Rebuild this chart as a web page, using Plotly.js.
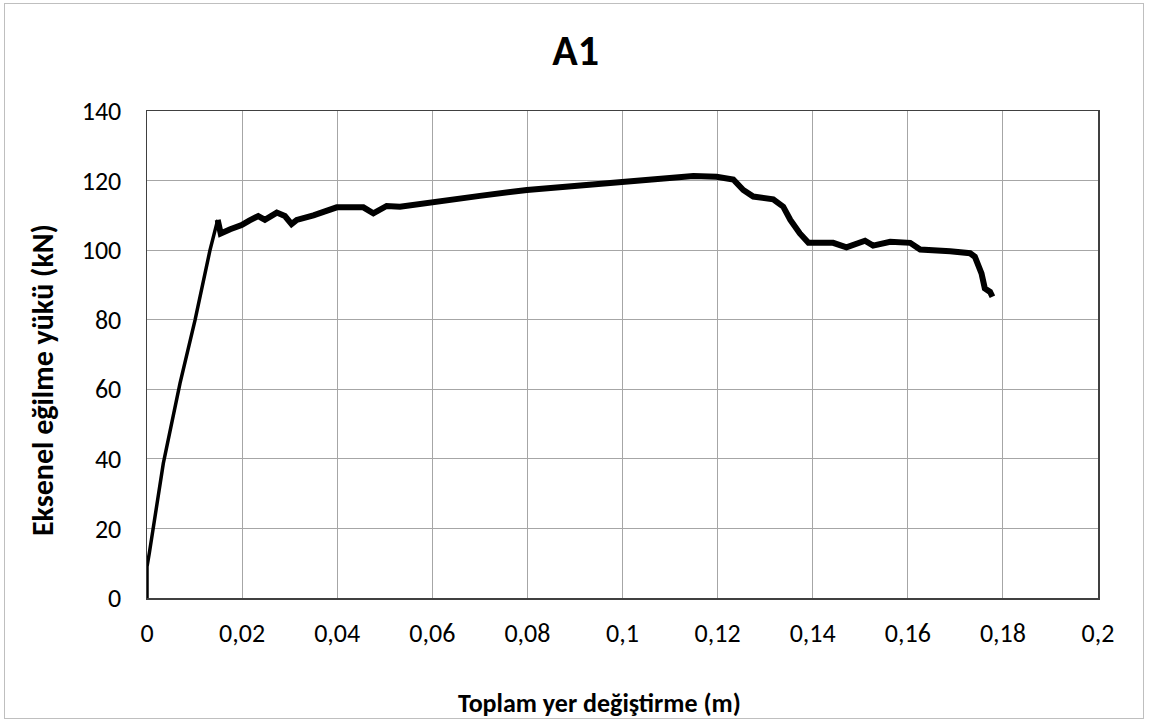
<!DOCTYPE html>
<html>
<head>
<meta charset="utf-8">
<script src="https://cdn.plot.ly/plotly-3.0.1.min.js"></script>
<style>
  html, body { margin: 0; padding: 0; background: #fff; }
  #wrap { position: relative; width: 1149px; height: 724px; }
  #frame { position: absolute; left: 4px; top: 3px; width: 1140px; height: 716px; border: 1px solid #bfbfbf; box-sizing: border-box; pointer-events: none; }
  #chart { position: absolute; left: 0; top: 0; width: 1149px; height: 724px; }
</style>
</head>
<body>
<div id="wrap">
  <div id="chart"></div>
  <div id="frame"></div>
</div>
<script>
const chartTitle = "A1";
const xTitle = "Toplam yer değiştirme (m)";
const yTitle = "Eksenel eğilme yükü (kN)";

const displacement = [0, 0, 0.0005, 0.00343, 0.00694, 0.0101, 0.01325, 0.01487, 0.0155, 0.0175, 0.0199, 0.0215, 0.0234, 0.0248, 0.0262, 0.0273, 0.029, 0.0304, 0.0315, 0.035, 0.0399, 0.0455, 0.0476, 0.0504, 0.0532, 0.0599, 0.07, 0.0799, 0.09, 0.0998, 0.108, 0.1149, 0.1198, 0.1233, 0.1254, 0.1275, 0.1317, 0.1338, 0.1353, 0.1373, 0.1391, 0.1443, 0.1471, 0.151, 0.1527, 0.1563, 0.1605, 0.1626, 0.1689, 0.1731, 0.1741, 0.1755, 0.1762, 0.1773, 0.1778];
const load = [0, 9, 13, 38.7, 61.7, 79.9, 100, 108.7, 104.8, 106, 107.2, 108.5, 109.8, 108.7, 110, 110.8, 109.8, 107.5, 108.7, 110, 112.3, 112.3, 110.6, 112.7, 112.5, 113.9, 115.6, 117.3, 118.5, 119.5, 120.3, 121.3, 121.1, 120.3, 117.3, 115.4, 114.6, 112.5, 108.7, 104.8, 102.1, 102.1, 100.8, 102.7, 101.3, 102.4, 102.1, 100.2, 99.7, 99.1, 98.1, 93.3, 89.0, 88.0, 86.6];

const fontFam = "Carlito, Calibri, Lato, 'Liberation Sans', sans-serif";

// elastic rise (thinner in the original) and the plastic part (thicker, noisy record)
const split = 7;
Plotly.newPlot('chart', [{
  x: displacement.slice(0, split + 1), y: load.slice(0, split + 1), type: 'scatter', mode: 'lines',
  line: { color: '#000000', width: 3.5 }, hoverinfo: 'skip'
}, {
  x: displacement.slice(split), y: load.slice(split), type: 'scatter', mode: 'lines',
  line: { color: '#000000', width: 6 }, hoverinfo: 'skip'
}], {
  width: 1149, height: 724,
  margin: { l: 147, r: 51, t: 111, b: 126 },
  paper_bgcolor: 'rgba(0,0,0,0)', plot_bgcolor: '#ffffff',
  separators: ', ',
  showlegend: false,
  font: { family: fontFam, color: '#000000', size: 26 },
  title: { text: '<b>' + chartTitle + '</b>', font: { family: fontFam, size: 42, color: '#000' }, x: 0.501, xanchor: 'center', y: 0.93, yanchor: 'middle' },
  xaxis: {
    range: [0, 0.2], dtick: 0.02, tick0: 0, showgrid: true, gridcolor: '#a6a6a6', gridwidth: 1,
    zeroline: false, showline: true, linecolor: '#404040', linewidth: 1.5, mirror: true,
    ticks: '', ticklabelstandoff: 11, tickfont: { size: 26, family: fontFam }
  },
  yaxis: {
    range: [0, 140], dtick: 20, tick0: 0, showgrid: true, gridcolor: '#a6a6a6', gridwidth: 1,
    zeroline: false, showline: true, linecolor: '#404040', linewidth: 1.5, mirror: true,
    ticks: '', ticklabelstandoff: 19, tickfont: { size: 26, family: fontFam }
  },
  annotations: [
    { text: '<b>' + xTitle + '</b>', xref: 'paper', yref: 'paper', x: 0.476, y: -0.2156,
      xanchor: 'center', yanchor: 'middle', showarrow: false, font: { size: 26, family: fontFam } },
    { text: '<b>' + yTitle + '</b>', xref: 'paper', yref: 'paper', x: -0.1104, y: 0.4476,
      xanchor: 'center', yanchor: 'middle', textangle: -90, showarrow: false, font: { size: 30, family: fontFam } }
  ]
}, { staticPlot: true });
</script>
</body>
</html>
